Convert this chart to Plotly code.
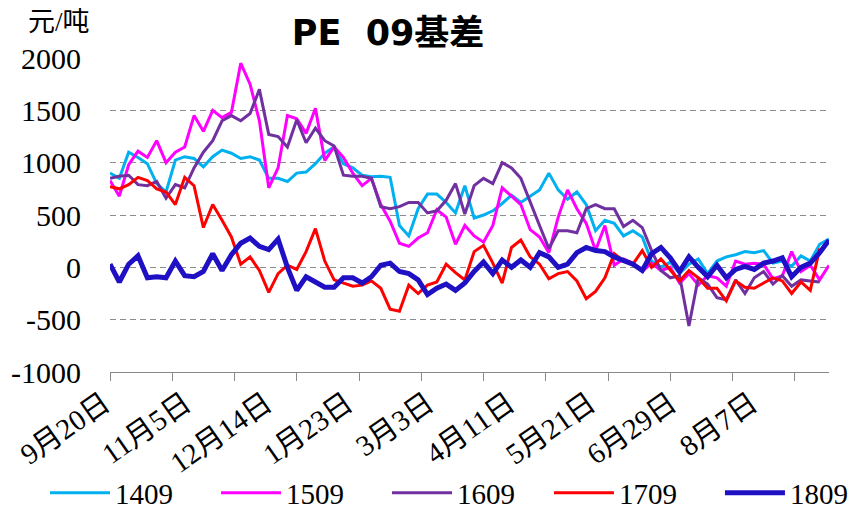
import plotly.graph_objects as go

# category index (trading-day position), sampled every 3 days
x_idx = list(range(0, 232, 3))

s1409 = [900, 850, 1100, 1050, 990, 800, 720, 1025, 1057, 1040,
         960, 1057, 1120, 1090, 1040, 1057, 1025, 850, 850, 820,
         900, 910, 990, 1090, 1150, 990, 950, 880, 865, 870,
         860, 400, 300, 560, 700, 700, 620, 520, 780, 470,
         500, 540, 610, 690, 620, 680, 740, 900, 740, 650,
         720, 600, 350, 450, 420, 300, 350, 290, 60, 0,
         50, -60, 30, 80, -60, 60, 100, 120, 150, 140,
         160, 40, 60, 10, 110, 60, 220, 270]

s1509 = [830, 680, 980, 1110, 1050, 1210, 1000, 1100, 1150, 1450,
         1300, 1500, 1430, 1480, 1950, 1750, 1400, 760, 950, 1450,
         1420, 1280, 1520, 1020, 1150, 1050, 900, 780, 850, 600,
         440, 230, 200, 280, 330, 550, 480, 220, 400, 300,
         240, 400, 760, 680, 600, 360, 290, 140, 480, 740,
         560, 420, 160, 400, 20, 80, 40, -40, 40, -30,
         0, -150, -60, -170, -80, -100, -180, 60, 30, 40,
         30, -110, -80, 150, -40, 20, -120, 20]

s1609 = [850, 870, 880, 790, 780, 820, 660, 790, 760, 950,
         1100, 1210, 1400, 1450, 1400, 1470, 1700, 1270, 1250, 1150,
         1410, 1190, 1330, 1210, 1160, 880, 870, 870, 850, 580,
         560, 580, 620, 620, 520, 540, 640, 800, 510, 780,
         850, 800, 1000, 950, 850, 620, 400, 180, 350, 350,
         330, 560, 600, 560, 560, 390, 450, 380, 160, -30,
         -100, -80, -560, -100, -160, -290, -310, -120, -250, -100,
         -40, -160, -80, -180, -120, -130, -140]

s1709 = [770, 750, 790, 860, 830, 750, 720, 600, 860, 780,
         380, 600, 450, 290, 30, 100, -30, -240, -60, 20,
         -20, 150, 370, 60, -120, -150, -180, -170, -130, -200,
         -400, -420, -170, -250, -170, -140, 30, -50, -120, 150,
         210, 40, -150, 190, 260, 100, 30, -110, -60, -40,
         -130, -300, -230, -100, 130, 60, 30, 160, 0, 80,
         -30, -130, -30, -100, -200, -200, -320, -130, -190, -200,
         -150, -100, -130, -250, -140, -220, 180]

s1809 = [30, -140, 30, 110, -100, -90, -100, 60, -80, -90,
         -40, 130, -30, 120, 230, 280, 200, 170, 270, 0,
         -220, -90, -140, -190, -190, -100, -100, -150, -90, 20,
         40, -40, -60, -120, -260, -200, -160, -220, -150, -40,
         50, -60, 70, 0, 70, 0, 140, 100, 0, 30,
         140, 190, 160, 150, 100, 60, 30, -30, 130, 190,
         90, -40, 100, 0, -90, 20, -100, -20, 10, -20,
         40, 60, 90, -90, 0, 40, 140, 260]

series_names = ["1409", "1509", "1609", "1709", "1809"]
series_vals = [s1409, s1509, s1609, s1709, s1809]
colors = ["#00B0F0", "#FF00FF", "#7030A0", "#FF0000", "#1F10C4"]
widths = [3, 3, 3, 3, 5]
legend_group = ["legend", "legend", "legend", "legend2", "legend2"]

tick_mark_pos = list(range(0, 221, 20))
label_pos = list(range(0, 209, 26))
label_text = ["9月20日", "11月5日", "12月14日", "1月23日", "3月3日",
              "4月11日", "5月21日", "6月29日", "8月7日"]
y_ticks = [-1000, -500, 0, 500, 1000, 1500, 2000]
y_text = ["-1000", "-500", "0", "500", "1000", "1500", "2000"]

fig = go.Figure()
for i, (name, vals) in enumerate(zip(series_names, series_vals)):
    fig.add_trace(go.Scatter(
        x=x_idx[:len(vals)], y=vals, name=name, mode="lines",
        line=dict(color=colors[i], width=widths[i]),
        xaxis="x2" if name == "1809" else "x", yaxis="y",
        legend=legend_group[i],
    ))

serif = "Liberation Serif, Noto Sans CJK SC"
leg_common = dict(orientation="h", yanchor="middle", xanchor="left", y=-0.385,
                  font=dict(family="Liberation Serif", size=29, color="black"),
                  entrywidth=96, entrywidthmode="pixels", itemwidth=60,
                  bgcolor="rgba(0,0,0,0)")
fig.update_layout(
    width=856, height=516,
    margin=dict(l=102, r=35, t=50, b=152, autoexpand=False),
    plot_bgcolor="white", paper_bgcolor="white",
    title=dict(text="<b>PE  09基差</b>", x=0.444, xanchor="center", xref="container",
               y=0.953, yanchor="middle", yref="container",
               font=dict(family="DejaVu Sans, Noto Sans CJK SC", size=35, color="black")),
    xaxis=dict(range=[0, 231], showline=True, linecolor="#898989", linewidth=1.3,
               ticks="outside", ticklen=8, tickcolor="#898989", tickwidth=1.3,
               tickvals=tick_mark_pos, showticklabels=False,
               showgrid=False, zeroline=False),
    xaxis2=dict(overlaying="x", matches="x", side="bottom", showline=False,
                ticks="", tickvals=label_pos, ticktext=label_text, tickangle=-35,
                tickfont=dict(family=serif, size=29, color="black"),
                ticklabelstandoff=8, ticklabelshift=-6, ticklabeloverflow="allow",
                showgrid=False, zeroline=False),
    yaxis=dict(range=[-1000, 2000], tickvals=y_ticks, ticktext=y_text,
               showgrid=True, gridcolor="#8c8c8c", gridwidth=1.3, griddash="6px,4px",
               zeroline=False, showline=False, ticks="",
               tickfont=dict(family="Liberation Serif", size=30, color="black"),
               ticklabelstandoff=28),
    legend=dict(x=-0.0904, **leg_common),
    legend2=dict(x=0.6105, **leg_common),
    annotations=[dict(text="元/吨", x=-0.0709, y=1.1146, xref="paper", yref="paper",
                      xanchor="center", yanchor="middle", showarrow=False,
                      font=dict(family=serif, size=27, color="black"))],
)

fig.write_html("out.html")
